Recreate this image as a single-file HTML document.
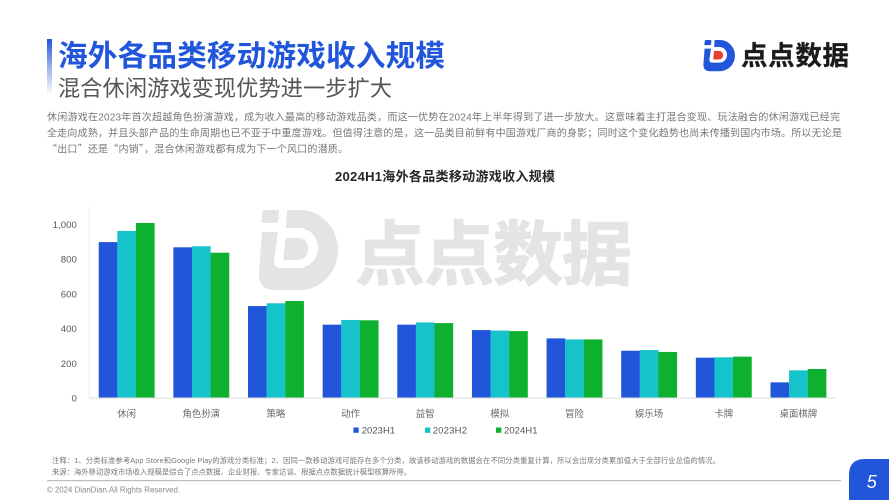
<!DOCTYPE html>
<html lang="zh-CN">
<head>
<meta charset="utf-8">
<title>海外各品类移动游戏收入规模</title>
<style>
html,body{margin:0;padding:0;background:#fff;}
body{width:889px;height:500px;overflow:hidden;}
svg{display:block;filter:blur(0.3px);}
text{font-family:"Liberation Sans","Noto Sans CJK SC",sans-serif;}
</style>
</head>
<body>
<svg id="page" width="889" height="500" viewBox="0 0 889 500" xmlns="http://www.w3.org/2000/svg">
  <defs>
    <linearGradient id="accentGrad" x1="0" y1="0" x2="0" y2="1">
      <stop offset="0" stop-color="#2156db"/>
      <stop offset="0.45" stop-color="#8fa8ea"/>
      <stop offset="1" stop-color="#ffffff"/>
    </linearGradient>
  </defs>
  <rect x="0" y="0" width="889" height="500" fill="#ffffff"/>

  <g>
    <g transform="translate(258 210)" fill="#e3e4e5">
      <path d="M29 0 H42 A38 40 0 0 1 42 80 H17 Q0 80 1 62 L4 22 H20 L16 50 Q15.5 58 23 58 H41 A19 20 0 0 0 41 18 H28 Z"/>
      <path d="M6.500 0 H19 Q21 0 21 2 L20 11 Q20 13 18 13 H5 Q3 13 3.500 11 L4.500 2 Q4.500 0 6.500 0 Z"/>
      <path d="M29 28 H39 Q50 28 50 39 Q50 50 38 50 H27 Q25 50 25.500 48 L27.500 30 Q27.500 28 29 28 Z"/>
    </g>
    <text x="355" y="279" font-size="70" font-weight="700" fill="#e3e4e5" stroke="#e3e4e5" stroke-width="1.2" style="font-family:'Noto Sans CJK SC',sans-serif" textLength="277" lengthAdjust="spacing">点点数据</text>
  </g>

  <rect x="47" y="39" width="5" height="56" fill="url(#accentGrad)"/>
  <text x="58" y="66" font-size="29.6" font-weight="700" fill="#2156db" textLength="387" lengthAdjust="spacing">海外各品类移动游戏收入规模</text>
  <text x="58" y="96" font-size="22.2" font-weight="400" fill="#555555" textLength="334" lengthAdjust="spacing">混合休闲游戏变现优势进一步扩大</text>

  <g>
    <g transform="translate(703 40) scale(0.4 0.39)" fill="#2156db">
      <path d="M29 0 H42 A38 40 0 0 1 42 80 H17 Q0 80 1 62 L4 22 H20 L16 50 Q15.5 58 23 58 H41 A19 20 0 0 0 41 18 H28 Z"/>
      <path d="M6.500 0 H19 Q21 0 21 2 L20 11 Q20 13 18 13 H5 Q3 13 3.500 11 L4.500 2 Q4.500 0 6.500 0 Z"/>
      <path fill="#e8402f" d="M29 28 H39 Q50 28 50 39 Q50 50 38 50 H27 Q25 50 25.500 48 L27.500 30 Q27.500 28 29 28 Z"/>
    </g>
    <text x="741" y="65" font-size="26.5" font-weight="700" fill="#1a1a1a" stroke="#1a1a1a" stroke-width="0.3" textLength="108" lengthAdjust="spacing">点点数据</text>
  </g>

  <g font-size="10" fill="#777777">
    <text x="47" y="120.5" textLength="793" lengthAdjust="spacing">休闲游戏在2023年首次超越角色扮演游戏，成为收入最高的移动游戏品类，而这一优势在2024年上半年得到了进一步放大。这意味着主打混合变现、玩法融合的休闲游戏已经完</text>
    <text x="47" y="136.5" textLength="795" lengthAdjust="spacing">全走向成熟，并且头部产品的生命周期也已不亚于中重度游戏。但值得注意的是，这一品类目前鲜有中国游戏厂商的身影；同时这个变化趋势也尚未传播到国内市场。所以无论是</text>
    <text x="47" y="152.5" style="font-family:'Noto Sans CJK SC',sans-serif" textLength="301" lengthAdjust="spacing">“出口”还是“内销”，混合休闲游戏都有成为下一个风口的潜质。</text>
  </g>

  <text x="335" y="181" font-size="13" font-weight="700" fill="#262626" textLength="220" lengthAdjust="spacing">2024H1海外各品类移动游戏收入规模</text>

  <g id="chart"></g>

  <g font-size="9.5" fill="#555555">
    <g>
      <rect x="353.400" y="427.500" width="5.300" height="5.300" fill="#2156db"/>
      <text x="361.700" y="433.500" textLength="33.500" lengthAdjust="spacing">2023H1</text>
    </g>
    <g>
      <rect x="425" y="427.500" width="5.300" height="5.300" fill="#17c3cb"/>
      <text x="432.700" y="433.500" textLength="34.300" lengthAdjust="spacing">2023H2</text>
    </g>
    <g>
      <rect x="496" y="427.500" width="5.300" height="5.300" fill="#0db02f"/>
      <text x="504" y="433.500" textLength="33.500" lengthAdjust="spacing">2024H1</text>
    </g>
  </g>

  <g font-size="7.3" fill="#777777">
    <text x="52" y="463" textLength="668" lengthAdjust="spacing">注释：1、分类标准参考App Store和Google Play的游戏分类标准；2、因同一款移动游戏可能存在多个分类，故该移动游戏的数据会在不同分类重复计算，所以会出现分类累加值大于全部行业总值的情况。</text>
    <text x="52" y="474.500" textLength="359" lengthAdjust="spacing">来源：海外移动游戏市场收入规模是综合了点点数据、企业财报、专家访谈、根据点点数据统计模型核算所得。</text>
  </g>

  <rect x="47" y="480" width="794" height="1.2" fill="#bdbdbd"/>
  <text x="47" y="492.500" font-size="7.8" fill="#888888" textLength="133" lengthAdjust="spacing">© 2024 DianDian.All Rights Reserved.</text>

  <path d="M849 500 V475 Q849 459 865 459 H889 V500 Z" fill="#2156db"/>
  <text x="871.700" y="488" font-size="18" font-style="italic" fill="#ffffff" text-anchor="middle">5</text>
</svg>

<script>
const categories = ["休闲", "角色扮演", "策略", "动作", "益智", "模拟", "冒险", "娱乐场", "卡牌", "桌面棋牌"];
const revenue2023H1 = [897, 867, 529, 422, 422, 391, 343, 272, 232, 90];
const revenue2023H2 = [961, 873, 545, 449, 435, 388, 337, 276, 234, 159];
const revenue2024H1 = [1007, 836, 558, 447, 431, 385, 337, 265, 238, 167];
const yTickValues = [0, 200, 400, 600, 800, 1000];
const yTickLabels = ["0", "200", "400", "600", "800", "1,000"];

const SVG_NS = "http://www.w3.org/2000/svg";
const chart = document.getElementById("chart");
const plotLeft = 89.3;
const plotRight = 835.7;
const plotBottom = 398;
const plotTop = 207;
const yMax = 1099;
const barWidth = 18.6;
const seriesList = [
  { key: "2023h1", values: revenue2023H1, color: "#2156db" },
  { key: "2023h2", values: revenue2023H2, color: "#17c3cb" },
  { key: "2024h1", values: revenue2024H1, color: "#0db02f" }
];

function yScale(value) {
  return plotBottom - (value / yMax) * (plotBottom - plotTop);
}
function xBandCenter(index) {
  return plotLeft + (plotRight - plotLeft) / categories.length * (index + 0.5);
}
function make(tag, attrs) {
  const el = document.createElementNS(SVG_NS, tag);
  Object.keys(attrs).forEach(function (k) { el.setAttribute(k, attrs[k]); });
  return el;
}

const yAxisLine = make("line", { x1: plotLeft, x2: plotLeft, y1: plotTop, y2: plotBottom, stroke: "#ececec", "stroke-width": 1 });


chart.appendChild(yAxisLine);

yTickValues.forEach(function (value, i) {
  const label = make("text", { x: 76.8, y: yScale(value) + 3.6, "text-anchor": "end", "font-size": 9.6, fill: "#555555" });
  label.textContent = yTickLabels[i];
  
  
  chart.appendChild(label);
});

seriesList.forEach(function (series, s) {
  series.values.forEach(function (value, i) {
    const x = xBandCenter(i) + (s - 1.5) * barWidth;
    const bar = make("rect", { x: x, y: yScale(value), width: barWidth + 0.1, height: plotBottom - yScale(value), fill: series.color });
    
    
    chart.appendChild(bar);
  });
});

const xAxisLine = make("line", { x1: plotLeft, x2: plotRight, y1: plotBottom, y2: plotBottom, stroke: "#dedede", "stroke-width": 1 });


chart.appendChild(xAxisLine);

categories.forEach(function (name, i) {
  const label = make("text", { x: xBandCenter(i), y: 416.8, "text-anchor": "middle", "font-size": 9.4, fill: "#666666" });
  label.textContent = name;
  
  
  chart.appendChild(label);
});
</script>
</body>
</html>
